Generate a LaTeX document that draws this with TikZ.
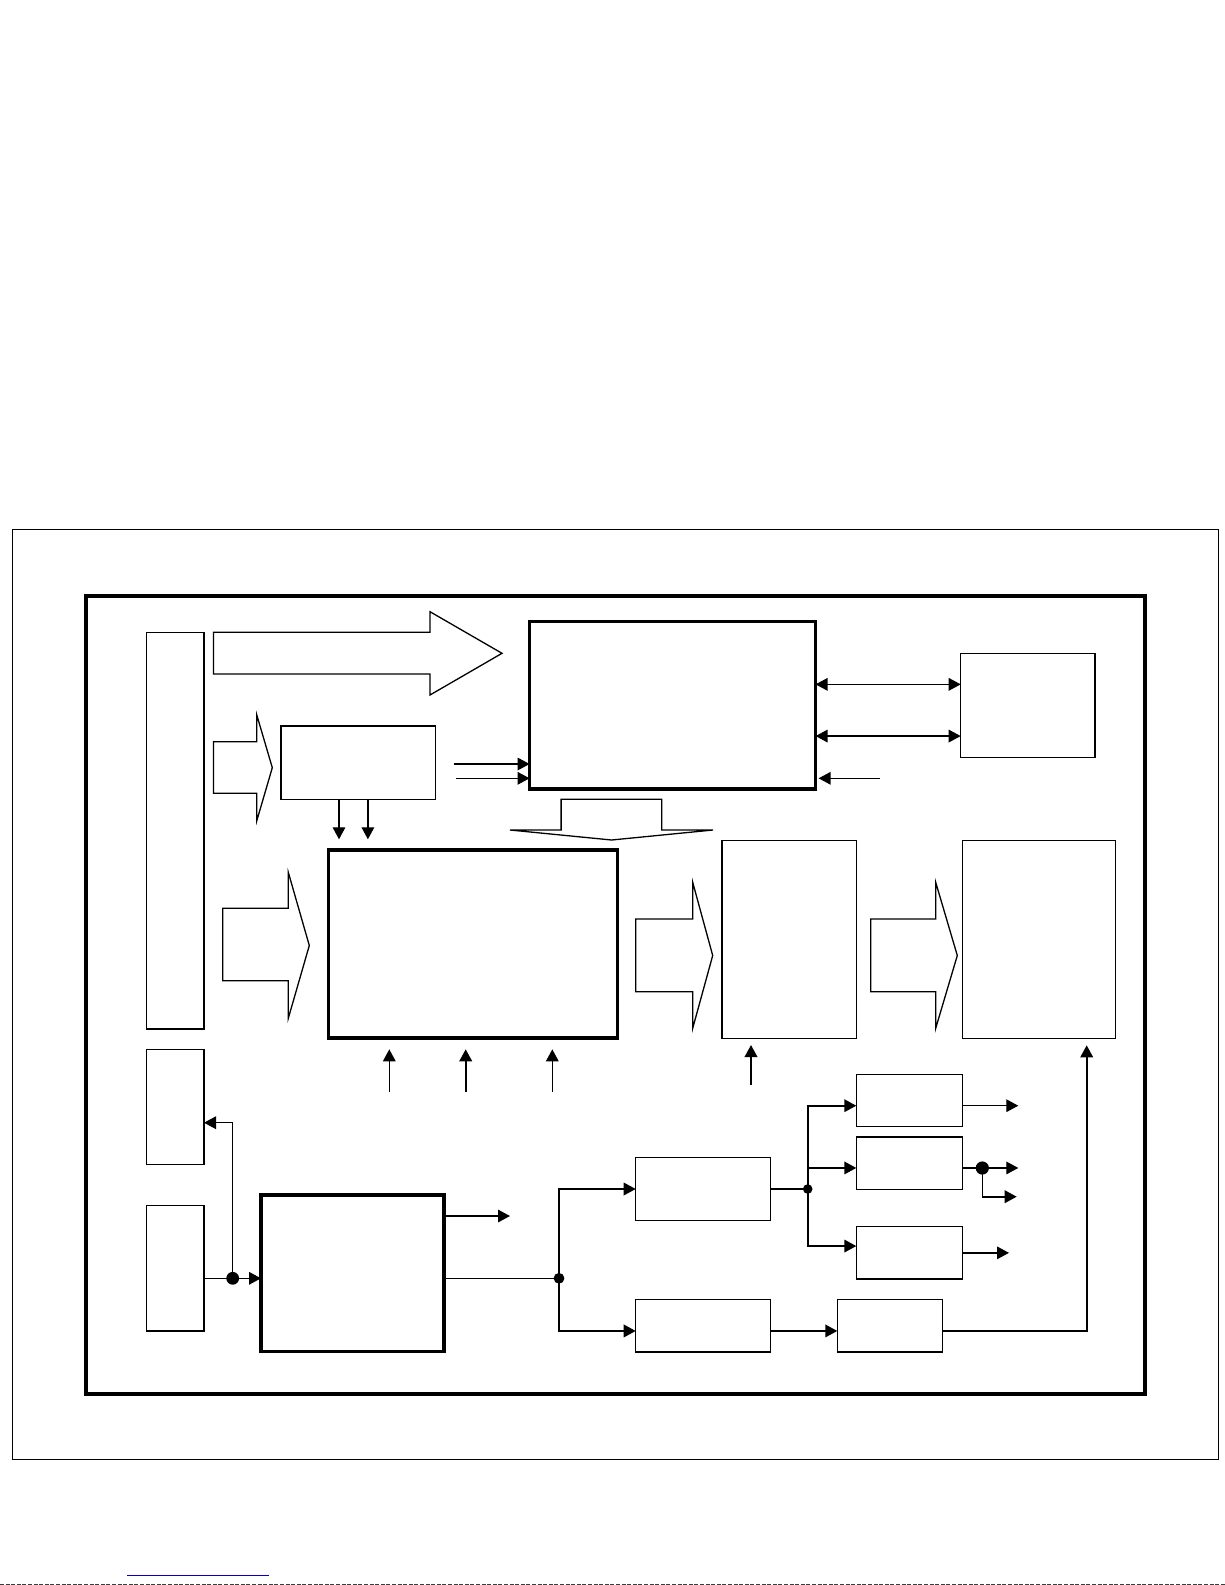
\documentclass[tikz,border=0pt]{standalone}
\usepackage{tikz}
\usetikzlibrary{arrows.meta, fit}
\usepackage{xcolor}
\definecolor{linkblue}{RGB}{0,0,204}
\definecolor{scangray}{RGB}{60,60,60}

\begin{document}
\begin{tikzpicture}[
  x=0.5pt, y=-0.5pt,
  box/.style={draw, line width=0.7pt, inner sep=0pt, outer sep=0pt},
  slim/.style={draw, line width=0.6pt, inner sep=0pt, outer sep=0pt},
  heavy/.style={draw, line width=1.6pt, inner sep=0pt, outer sep=0pt},
  fat/.style={draw, line width=0.65pt, line join=miter},
  wire/.style={line width=0.8pt},
  arr/.style={-{Triangle[length=6pt, width=6.3pt]}, line width=0.65pt},
  dbl/.style={{Triangle[length=6pt, width=6.3pt]}-{Triangle[length=6pt, width=6.3pt]},
              line width=0.65pt}
]
\useasboundingbox (0,0) rectangle (1225,1585);
\node[draw, line width=0.5pt, inner sep=0pt, fit={(12.3,529.3) (1218.5,1459.8)}] (page) {};
\node[draw, line width=2pt, inner sep=0pt, fit={(86,596) (1145,1393.5)}] (frame) {};

\node[slim, fit={(146.7,632.3) (204,1029)}] (bus) {};
\node[box, fit={(281,726) (435.4,799.3)}] (sub) {};
\node[heavy, fit={(529.6,621.7) (815.6,789)}] (core) {};
\node[box, fit={(960.7,653.3) (1095,757.3)}] (mem) {};
\node[heavy, fit={(328.5,850) (617.2,1038)}] (proc) {};
\node[box, fit={(722,840.7) (856.5,1038.5)}] (dsp) {};
\node[box, fit={(962.3,840.7) (1115.7,1038.3)}] (out) {};
\node[slim, fit={(146.7,1049.3) (204,1164.3)}] (ctl) {};
\node[slim, fit={(146.7,1205.7) (204,1331)}] (src) {};
\node[heavy, fit={(261,1195) (444,1351.7)}] (dec) {};
\node[box, fit={(635.7,1157.7) (770.3,1220.3)}] (mix) {};
\node[box, fit={(856.3,1074.3) (962.3,1126.3)}] (fa) {};
\node[box, fit={(856.3,1137) (962.3,1189.3)}] (fb) {};
\node[box, fit={(856.3,1226.7) (962.3,1279)}] (fc) {};
\node[box, fit={(635.7,1299.3) (770.3,1352)}] (dem) {};
\node[box, fit={(837.3,1299.3) (942.7,1352)}] (fil) {};

% hollow bus arrows
\draw[fat] (213.5,632.3) -- (430,632.3) -- (430,611.7) -- (502,653.3)
           -- (430,695) -- (430,674) -- (213.5,674) -- cycle;
\draw[fat] (213.5,741.7) -- (256.8,741.7) -- (256.8,715) -- (272.3,767.7)
           -- (256.8,820.7) -- (256.8,793.3) -- (213.5,793.3) -- cycle;
\draw[fat] (222.7,908.3) -- (288.3,908.3) -- (288.3,872.3) -- (309.3,945.5)
           -- (288.3,1018.3) -- (288.3,980.7) -- (222.7,980.7) -- cycle;
\draw[fat] (635.7,919) -- (692.7,919) -- (692.7,882.3) -- (712.7,955.5)
           -- (692.7,1028.3) -- (692.7,991.7) -- (635.7,991.7) -- cycle;
\draw[fat] (870.7,919) -- (935.7,919) -- (935.7,882.3) -- (957.3,955.5)
           -- (935.7,1028.3) -- (935.7,991.7) -- (870.7,991.7) -- cycle;
\draw[fat] (561.1,799.3) -- (661.7,799.3) -- (661.7,830) -- (713,830)
           -- (611.6,840) -- (510,830) -- (561.1,830) -- cycle;

% top row
\coordinate (l1) at (453.6,764);
\coordinate (l2) at (456,778.3);
\draw[arr] (l1) -- (l1 -| core.west);
\draw[arr] (l2) -- (l2 -| core.west);
\draw[dbl] ([yshift=10.5pt]core.east) -- ([yshift=10.5pt]core.east -| mem.west);
\draw[dbl] ([yshift=-15.35pt]core.east) -- ([yshift=-15.35pt]core.east -| mem.west);
\coordinate (r1) at (880,778.3);
\draw[arr, shorten >=1.5pt] (r1) -- (r1 -| core.east);
\coordinate (d1) at (339,839.3);
\coordinate (d2) at (367.9,839.3);
\draw[arr] (sub.south -| d1) -- (d1);
\draw[arr] (sub.south -| d2) -- (d2);

% inputs below the processing blocks
\coordinate (u1) at (389.3,1091.7);
\coordinate (u2) at (465.7,1091.7);
\coordinate (u3) at (552.3,1091.7);
\coordinate (u4) at (751,1085);
\draw[arr] (u1) -- ++(0,-42.4);
\draw[arr, line width=0.9pt] (u2) -- ++(0,-42.4);
\draw[arr] (u3) -- ++(0,-42.4);
\draw[arr, line width=0.9pt] (u4) -- ++(0,-40);

% source and decoder
\coordinate (j1) at (232.7,1278.3);
\draw[wire] (src.east |- j1) -- (j1);
\draw[arr, line width=0.8pt] (j1) -- (j1 -| dec.west);
\draw[arr] (j1) |- ([yshift=-7.95pt]ctl.east);
\fill (j1) circle (3.2pt);
\draw[arr] ([yshift=-10.5pt]dec.north east) -- ++(66,0);
\coordinate (j2) at (559,1278.3);
\draw[wire] (dec.east |- j2) -- (j2);
\draw[arr, line width=0.8pt] (j2) |- (mix.west);
\draw[arr, line width=0.8pt] (j2) |- ([yshift=-2.65pt]dem.west);
\fill (j2) circle (2.7pt);

% branch to the three small blocks
\coordinate (j3) at (807.7,1189);
\draw[wire] (mix.east) -- (j3);
\draw[arr, line width=0.8pt] (j3) |- ([yshift=-2.7pt]fa.west);
\draw[arr, line width=0.8pt] (j3) |- ([yshift=-2.4pt]fb.west);
\draw[arr, line width=0.8pt] (j3) |- ([yshift=3.4pt]fc.west);
\fill (j3) circle (2.4pt);
\draw[arr] ([yshift=-2.7pt]fa.east) -- ++(56,0);
\draw[arr] ([yshift=-2.4pt]fb.east) -- ++(56,0);
\coordinate (j4) at (982.3,1168);
\draw[arr, line width=0.8pt] (j4) -- ++(0,28.7) -- ++(34.4,0);
\fill (j4) circle (3.3pt);
\draw[arr] (fc.east) -- ++(46.7,0);

% lower path back up to the output block
\draw[arr, line width=0.8pt] ([yshift=-2.65pt]dem.east) -- ([yshift=-2.65pt]dem.east -| fil.west);
\draw[arr, line width=0.8pt, shorten >=3.5pt] ([yshift=-2.65pt]fil.east) -| ([xshift=23.85pt]out.south);

% page artefacts
\draw[linkblue, line width=0.6pt] (127,1575.3) -- (268.7,1575.3);
\draw[scangray, line width=0.6pt, dash pattern=on 2pt off 0.8pt] (0,1584.3) -- (1225,1584.3);
\end{tikzpicture}
\end{document}
